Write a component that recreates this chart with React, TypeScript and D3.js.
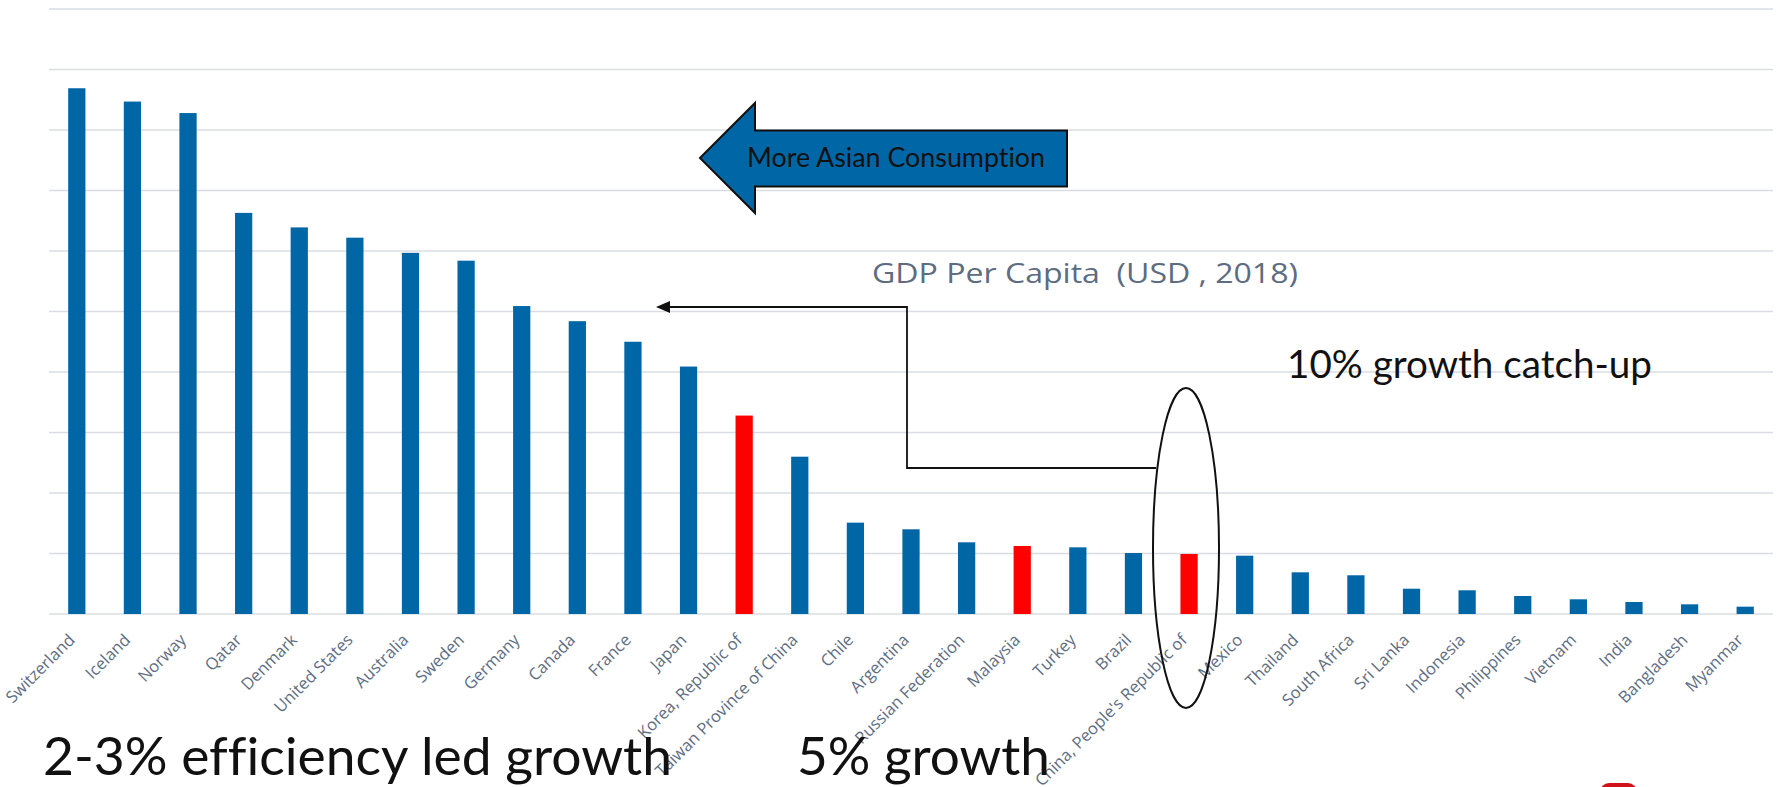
import React from "react";
import * as d3 from "d3";

const countries = [
  "Switzerland", "Iceland", "Norway", "Qatar", "Denmark", "United States",
  "Australia", "Sweden", "Germany", "Canada", "France", "Japan",
  "Korea, Republic of", "Taiwan Province of China", "Chile", "Argentina",
  "Russian Federation", "Malaysia", "Turkey", "Brazil",
  "China, People's Republic of", "Mexico", "Thailand", "South Africa",
  "Sri Lanka", "Indonesia", "Philippines", "Vietnam", "India", "Bangladesh", "Myanmar",
];
const gdpPerCapita = [
  86900, 84700, 82800, 66300, 63900, 62200, 59700, 58400, 50900, 48400, 45000, 40900,
  32800, 26000, 15100, 14000, 11850, 11240, 11020, 10080, 9920, 9640, 6890, 6400,
  4180, 3920, 2975, 2430, 1980, 1600, 1210,
];
const highlighted = ["Korea, Republic of", "Malaysia", "China, People's Republic of"];
const gridTicks = [0, 10000, 20000, 30000, 40000, 50000, 60000, 70000, 80000, 90000, 100000];

const W = 1785, H = 787;
const BLUE = "#0066a6";
const RED = "#ff0000";
const GRID = "#d9dde3";
const LABEL = "#5e6d82";

export default function App() {
  const x = d3.scaleBand<string>().domain(countries).range([49, 1773]).paddingInner(0.69).paddingOuter(0.345);
  const y = d3.scaleLinear().domain([0, 100000]).range([614, 9]);
  const bw = x.bandwidth();

  // elbow connector
  const conn = d3.path();
  conn.moveTo(1156, 468);
  conn.lineTo(907, 468);
  conn.lineTo(907, 307);
  conn.lineTo(668, 307);

  // block arrow
  const blk = d3.path();
  blk.moveTo(700, 158);
  blk.lineTo(755, 103);
  blk.lineTo(755, 130.5);
  blk.lineTo(1067, 130.5);
  blk.lineTo(1067, 186.5);
  blk.lineTo(755, 186.5);
  blk.lineTo(755, 213);
  blk.closePath();

  return (
    <svg width={W} height={H} style={{ position: "absolute", left: 0, top: 0, display: "block", background: "#fff" }}>
      {gridTicks.map((t) => (
        <line key={t} x1={49} x2={1773} y1={y(t)} y2={y(t)} stroke={GRID} strokeWidth={1.6} />
      ))}
      {countries.map((c, i) => (
        <rect key={c} x={x(c)} y={y(gdpPerCapita[i])} width={bw} height={y(0) - y(gdpPerCapita[i])}
          fill={highlighted.includes(c) ? RED : BLUE} />
      ))}
      {countries.map((c) => (
        <text key={c} transform={`translate(${(x(c) as number) + bw / 2 - 1},${641}) rotate(-45)`}
          textAnchor="end" fontFamily="'Open Sans', sans-serif" fontSize={16.5} fill={LABEL}>{c}</text>
      ))}

      <path d={blk.toString()} fill={BLUE} stroke="#111" strokeWidth={2} strokeLinejoin="miter" />
      <text x={747} y={167} fontFamily="Lato, sans-serif" fontSize={26} fill="#111" textLength={298} lengthAdjust="spacingAndGlyphs" style={{ fontVariantLigatures: "none" }}>More Asian Consumption</text>

      <text x={872} y={283} fontFamily="'Open Sans', sans-serif" fontSize={28} fill="#5d6c80" textLength={426} lengthAdjust="spacingAndGlyphs" style={{ whiteSpace: "pre" }}>GDP Per Capita  (USD , 2018)</text>

      <path d={conn.toString()} fill="none" stroke="#111" strokeWidth={1.8} />
      <path d="M656,307 L670,301 L670,313 Z" fill="#111" />

      <ellipse cx={1186} cy={548} rx={33} ry={160} fill="none" stroke="#111" strokeWidth={2} />

      <text x={1287} y={378} fontFamily="Lato, sans-serif" fontSize={39} fill="#111" textLength={365} lengthAdjust="spacingAndGlyphs" style={{ fontVariantLigatures: "none" }}>10% growth catch-up</text>

      <text x={43} y={775} fontFamily="Lato, sans-serif" fontSize={52} fill="#111" textLength={629} lengthAdjust="spacingAndGlyphs" style={{ fontVariantLigatures: "none" }}>2-3% efficiency led growth</text>
      <text x={797} y={775} fontFamily="Lato, sans-serif" fontSize={52} fill="#111" textLength={253} lengthAdjust="spacingAndGlyphs">5% growth</text>

      <rect x={1600} y={783} width={37} height={20} rx={9} fill="#d0121b" />
    </svg>
  );
}
